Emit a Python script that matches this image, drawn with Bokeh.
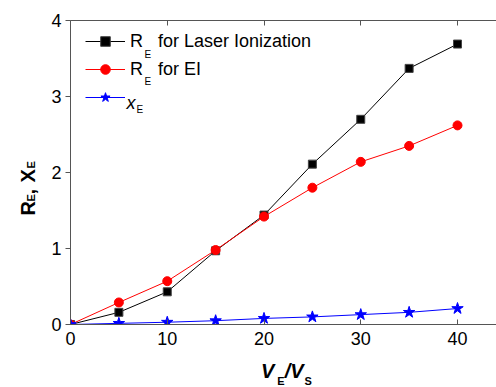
import math
from bokeh.plotting import figure
from bokeh.layouts import row, column
from bokeh.models import Range1d, LinearAxis, Legend, LegendItem, Label, FixedTicker, Div
from bokeh.embed import file_html
from bokeh.resources import INLINE

# ---- data ----
ve_vs = [0, 5, 10, 15, 20, 25, 30, 35, 40]
re_laser = [0.0, 0.16, 0.43, 0.97, 1.44, 2.11, 2.70, 3.37, 3.69]
re_ei = [0.0, 0.29, 0.57, 0.98, 1.42, 1.80, 2.14, 2.35, 2.62]
x_e = [0.0, 0.015, 0.03, 0.05, 0.08, 0.10, 0.13, 0.16, 0.21]
x_ticks = [0, 10, 20, 30, 40]
y_ticks = [0, 1, 2, 3, 4]
legend_labels = ["R\u00a0\u00a0\u00a0for Laser Ionization", "R\u00a0\u00a0\u00a0for EI", " "]

FONT = "Liberation Sans"
YL_W = 44             # strip holding the y-axis title
MAIN_W, MAIN_H = 452, 360
XL_H = 27             # strip holding the x-axis title
X_END = 44.03
Y_END = 4

p = figure(width=MAIN_W, height=MAIN_H, output_backend="svg", toolbar_location=None,
           title=None,
           x_range=Range1d(0, X_END), y_range=Range1d(0, Y_END),
           min_border_left=26, min_border_right=0, min_border_top=20, min_border_bottom=36)
p.frame_align = False
p.outline_line_color = None
p.xgrid.visible = False
p.ygrid.visible = False

AX = "#555555"
xa = p.xaxis[0]
xa.ticker = FixedTicker(ticks=x_ticks)
xa.major_tick_in = 5
xa.major_tick_out = 0
xa.minor_tick_line_color = None
xa.axis_line_color = AX
xa.major_tick_line_color = AX
xa.major_label_text_font = FONT
xa.major_label_text_font_size = "18px"
xa.major_label_text_color = "black"
xa.major_label_standoff = 7

ya = p.yaxis[0]
ya.ticker = FixedTicker(ticks=y_ticks)
ya.major_tick_in = 0
ya.major_tick_out = 5
ya.minor_tick_line_color = None
ya.axis_line_color = AX
ya.major_tick_line_color = AX
ya.major_label_text_font = FONT
ya.major_label_text_font_size = "18px"
ya.major_label_text_color = "black"
ya.major_label_standoff = 4

top = LinearAxis(ticker=FixedTicker(ticks=x_ticks))
top.major_tick_in = 5
top.major_tick_out = 0
top.minor_tick_line_color = None
top.axis_line_color = AX
top.major_tick_line_color = AX
top.major_label_text_font_size = "1px"
top.major_label_text_color = None
top.major_label_standoff = 0
p.add_layout(top, "above")

# ---- series ----
l1 = p.line(ve_vs, re_laser, line_color="black", line_width=1)
s1 = p.scatter(ve_vs, re_laser, marker="square", size=8, fill_color="black", line_color="#444444")
l2 = p.line(ve_vs, re_ei, line_color="#ff0000", line_width=1)
s2 = p.scatter(ve_vs, re_ei, marker="circle", size=9, fill_color="#ff0000", line_color="#ff0000")
l3 = p.line(ve_vs, x_e, line_color="#0000ff", line_width=1)
s3 = p.scatter(ve_vs, x_e, marker="star", size=12, fill_color="#0000ff", line_color="#0000ff")

legend = Legend(items=[LegendItem(label=legend_labels[0], renderers=[l1, s1]),
                       LegendItem(label=legend_labels[1], renderers=[l2, s2]),
                       LegendItem(label=legend_labels[2], renderers=[l3, s3])],
                location=(15, 215), margin=0, padding=0, spacing=4,
                glyph_width=40, glyph_height=24, label_height=24, label_standoff=5,
                label_text_font=FONT, label_text_font_size="18px",
                label_text_color="black",
                background_fill_alpha=0, border_line_color=None)
p.add_layout(legend)


def lab(fig, px, py, text, size, style="normal", angle=0):
    fig.add_layout(Label(x=px, y=py, x_units="canvas", y_units="canvas", text=text,
                         text_font=FONT, text_font_size=size, text_font_style=style,
                         angle=angle, text_align="left", text_baseline="alphabetic",
                         text_color="black"))


def strip(w, h):
    f = figure(width=w, height=h, output_backend="svg", toolbar_location=None,
               title=None,
               x_range=Range1d(0, 1), y_range=Range1d(0, 1),
               x_axis_location=None, y_axis_location=None,
               min_border_left=0, min_border_right=0, min_border_top=0, min_border_bottom=0)
    f.frame_align = False
    f.outline_line_color = None
    f.xgrid.visible = False
    f.ygrid.visible = False
    return f


# legend subscripts and chi (main canvas starts at page x = YL_W)
ox = YL_W
lab(p, 144 - ox, 53.5, "E", "10px")
lab(p, 144 - ox, 81, "E", "10px")
lab(p, 126 - ox, 102.5, "x", "18px", "italic")
lab(p, 136 - ox, 108.5, "E", "10px")

# y axis title (rotated), in its own strip
yl = strip(YL_W, MAIN_H + XL_H)
A = math.pi / 2
lab(yl, 27, 215, "R", "20px", "bold", A)
lab(yl, 30, 201, "E", "11px", "bold", A)
lab(yl, 27, 194, ",", "20px", "bold", A)
lab(yl, 27, 182, "X", "20px", "bold", A)
lab(yl, 30, 168, "E", "11px", "bold", A)

# x axis title as HTML text below the plot
sub = "font-size:11px;position:relative;top:7px;font-style:normal;"
xl_html = (
    '<div style="font-family:\'Liberation Sans\',Arial,sans-serif;font-weight:bold;'
    'font-size:20px;line-height:20px;padding-left:%dpx;padding-top:1px;'
    'white-space:nowrap;color:black;margin:0;">'
    '<i>V</i><span style="%smargin-left:3px;">E</span>'
    '<i>/V</i><span style="%smargin-left:1px;">S</span></div>'
) % (261 - ox, sub, sub)
xl = Div(text=xl_html, width=MAIN_W, height=XL_H, margin=(0, 0, 0, 0),
         styles={"overflow": "visible"})

layout = row(yl, column(p, xl))
open("out.html", "w").write(file_html(layout, INLINE))
